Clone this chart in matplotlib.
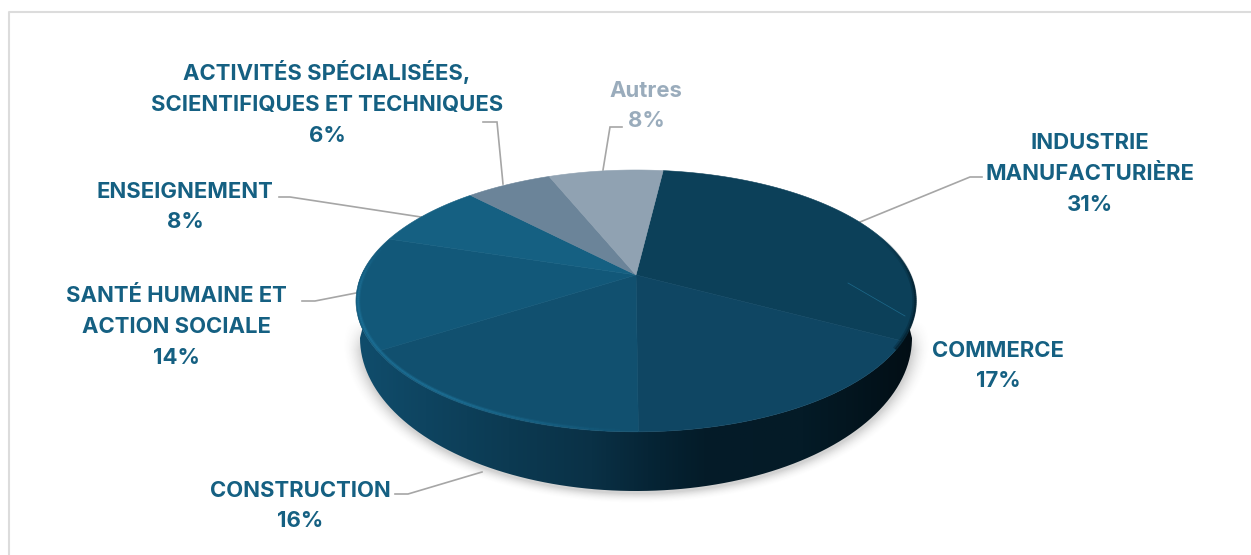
import numpy as np
import matplotlib
matplotlib.use('Agg')
from matplotlib import pyplot as plt
from matplotlib.colors import LinearSegmentedColormap, to_rgb
from matplotlib.collections import LineCollection
from matplotlib.path import Path
from matplotlib.patches import PathPatch

labels = ['INDUSTRIE\nMANUFACTURIÈRE', 'COMMERCE', 'CONSTRUCTION',
          'SANTÉ HUMAINE ET\nACTION SOCIALE', 'ENSEIGNEMENT',
          'ACTIVITÉS SPÉCIALISÉES,\nSCIENTIFIQUES ET TECHNIQUES', 'Autres']
values = [31, 17, 16, 14, 8, 6, 8]
slice_colors = ['#0c4059', '#0f4663', '#11506f', '#125879', '#156082', '#6b8499', '#90a2b2']

# label centres, in pixels of the reference
label_xy = [(1090, 174), (998, 366), (300, 506), (176, 327), (185, 207), (327, 103), (646, 106)]
label_colors = ['#156082'] * 6 + ['#9aacbc']

leaders = [
    [(860, 222), (970, 177), (982, 177)],
    [(395, 494), (408, 494), (482, 472)],
    [(302, 301), (315, 301), (356, 293)],
    [(279, 197), (290, 197), (421, 217)],
    [(483, 122), (497, 122), (503, 184)],
    [(622, 127), (610, 127), (603, 170)],
]

# perspective of the pie disc
CX, CY = 636, 275
RX, RY = 274.5, 125.8
K = 0.198
START = 6.8
# outline of the base, it is seen more tilted than the top face
BASE_Y, BASE_A, BASE_B = 338, 276, 153


def project(theta, scale=1.0, y0=CY):
    # theta in degrees, clockwise from the back of the disc
    t = np.radians(theta)
    u, v = np.sin(t) * scale, np.cos(t) * scale
    d = 1 + K * v / scale
    return CX + RX * u / d, y0 - RY * v / d


def rim_line(theta, fade, color, lw, scale):
    # stroke along the disc edge whose opacity follows fade
    x, y = project(theta, scale)
    pts = np.column_stack([x, y])
    segs = np.stack([pts[:-1], pts[1:]], axis=1)
    cols = np.zeros((len(segs), 4))
    cols[:, :3] = to_rgb(color)
    cols[:, 3] = fade[:-1]
    ax.add_collection(LineCollection(segs, colors=cols, linewidths=lw, zorder=5))


fig = plt.figure(figsize=(12.51, 5.55), dpi=100)
ax = fig.add_axes([0, 0, 1, 1])
ax.axis('off')

# frame of the picture
ax.plot([8.5, 8.5, 1251], [555, 11.5, 11.5], color='#dcdcdc', lw=1.5, zorder=1)

# soft shadow under the disc
X, Y = np.meshgrid(np.arange(320, 960), np.arange(300, 530))
rr = np.sqrt(((X - CX) / BASE_A) ** 2 + ((Y - BASE_Y - 2) / BASE_B) ** 2)
shadow = np.clip((1.07 - rr) / 0.07, 0, 1) ** 2 * 0.22 * np.clip((Y - 320) / 30, 0, 1)
rgba = np.zeros(X.shape + (4,))
rgba[..., :3] = 0.2
rgba[..., 3] = shadow
ax.imshow(rgba, extent=(320, 960, 530, 300), aspect='auto', zorder=2, interpolation='bilinear')

# side wall, with a gradient running left to right
tx, ty = project(np.linspace(75, 285, 200))
t = np.radians(np.linspace(180, 0, 200))
bx = CX + BASE_A * np.cos(t)
by = BASE_Y + BASE_B * np.sin(t)
wall = np.column_stack([np.r_[tx, bx], np.r_[ty, by]])
wall_cmap = LinearSegmentedColormap.from_list('wall', [
    (0.00, '#104d6c'), (0.12, '#0e4460'), (0.27, '#0c3a52'), (0.42, '#0a3146'),
    (0.52, '#062536'), (0.62, '#041c29'), (0.80, '#041b27'), (1.00, '#020e15')])
grad = ax.imshow(np.linspace(0, 1, 256)[None, :], cmap=wall_cmap,
                 extent=(358, 915, 500, 270), aspect='auto', zorder=3)
grad.set_clip_path(PathPatch(Path(wall), transform=ax.transData))

# top face
edges = START + 3.6 * np.cumsum([0] + values)
for i in range(len(values)):
    arc = np.linspace(edges[i], edges[i + 1], 80)
    ax_, ay_ = project(arc)
    ax.fill(np.r_[CX, ax_], np.r_[CY, ay_], color=slice_colors[i], lw=0.4, zorder=4)

# bevel highlight along the front left rim, fading to the right
theta = np.linspace(180, 285, 120)
fade = np.clip((theta - 180) / 35, 0, 1) * np.clip((285 - theta) / 25, 0, 1)
rim_line(theta, fade * 0.35, '#1d7096', 3.0, 0.992)
rim_line(theta, fade * 0.75, '#1d7096', 1.4, 0.992)

# dark rim on the right
theta = np.linspace(70, 122, 60)
fade = np.clip((theta - 70) / 25, 0, 1)
rim_line(theta, fade * 0.35, '#04202e', 3.2, 0.995)
rim_line(theta, fade * 0.7, '#04202e', 1.6, 0.998)

# thin stray line in the large slice
ax.plot([848, 905], [283, 316], color='#1d6a8c', lw=0.5, zorder=5)

for pts in leaders:
    xs, ys = zip(*pts)
    ax.plot(xs, ys, color='#a6a6a6', lw=1.2, zorder=3, solid_joinstyle='miter')

for name, val, (x, y), col in zip(labels, values, label_xy, label_colors):
    ax.text(x, y, '{}\n{}%'.format(name, val), color=col, ha='center', va='center',
            fontsize=15.9, fontweight='bold', family='Inter', linespacing=1.68, zorder=6)

ax.set_xlim(0, 1251)
ax.set_ylim(555, 0)
fig.savefig('out.png', dpi=100, facecolor='white')
